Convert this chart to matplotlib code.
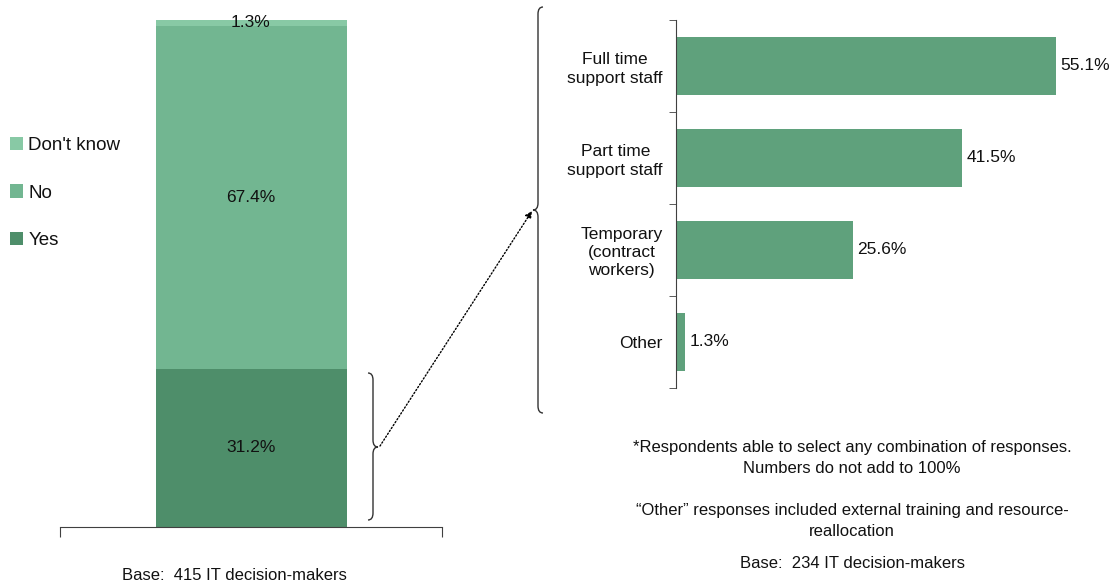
import matplotlib
matplotlib.use("Agg")
import matplotlib.pyplot as plt
from matplotlib.path import Path
from matplotlib.patches import PathPatch, FancyArrowPatch

plt.rcParams['font.family'] = ['Liberation Sans', 'DejaVu Sans']

# stacked column: has the organisation added staff?
stack_labels = ["Yes", "No", "Don't know"]
stack_values = [31.2, 67.4, 1.3]
stack_colors = ["#4e8e6a", "#72b691", "#88c9a5"]

# breakdown of the "Yes" answers
staff_types = ["Full time\nsupport staff", "Part time\nsupport staff",
               "Temporary\n(contract\nworkers)", "Other"]
staff_values = [55.1, 41.5, 25.6, 1.3]
bar_color = "#5fa17c"

left_base = "Base:  415 IT decision-makers"
right_notes = ["*Respondents able to select any combination of responses.\nNumbers do not add to 100%",
               "\u201cOther\u201d responses included external training and resource-\nreallocation",
               "Base:  234 IT decision-makers"]

W, H = 1117, 583
fig = plt.figure(figsize=(W / 100, H / 100), dpi=100)

def fx(x):
    return x / W

def fy(y):
    return 1 - y / H

txt = "#111111"
axis_col = "#404040"
lab_fs = 12.5
note_fs = 12

# ---- left stacked bar
ax1 = fig.add_axes([fx(60), fy(527), 382 / W, 508 / H])
bottom = 0
handles = []
for lab, val, col in zip(stack_labels, stack_values, stack_colors):
    b = ax1.bar(0, val, width=1.0, bottom=bottom, color=col, label=lab)
    ax1.text(0, bottom + val / 2, "%.1f%%" % val, ha="center", va="center",
             fontsize=lab_fs, color=txt)
    handles.append(b)
    bottom += val
ax1.set_xlim(-1, 1)
ax1.set_ylim(0, 100)
for s in ["top", "right", "left"]:
    ax1.spines[s].set_visible(False)
ax1.spines["bottom"].set_color(axis_col)
ax1.set_yticks([])
ax1.set_xticks([-1, 1])
ax1.set_xticklabels([])
ax1.tick_params(axis="x", length=7, color=axis_col, direction="out")
fig.text(fx(234), fy(575), left_base, ha="center", va="center", fontsize=note_fs, color=txt)

leg = ax1.legend(handles[::-1], stack_labels[::-1], loc="center left",
                 bbox_to_anchor=(fx(10), fy(193)), bbox_transform=fig.transFigure,
                 frameon=False, fontsize=13.5, handlelength=0.7, handleheight=0.7,
                 handletextpad=0.28, labelspacing=1.6, borderpad=0, borderaxespad=0)
for t in leg.get_texts():
    t.set_color(txt)

# ---- right horizontal bars
ax2 = fig.add_axes([fx(676), fy(388), 414 / W, 368 / H])
pos = list(range(len(staff_types)))
bars = ax2.barh(pos, staff_values, height=0.63, color=bar_color)
ax2.bar_label(bars, labels=["%.1f%%" % v for v in staff_values], padding=3,
              fontsize=lab_fs, color=txt)
ax2.set_ylim(3.5, -0.5)
ax2.set_xlim(0, 60)
for s in ["top", "right", "bottom"]:
    ax2.spines[s].set_visible(False)
ax2.spines["left"].set_color(axis_col)
ax2.set_xticks([])
ax2.set_yticks(pos)
ax2.set_yticklabels(staff_types, fontsize=lab_fs, color=txt)
for t in ax2.get_yticklabels():
    t.set_multialignment("center")
    t.set_linespacing(1.25)
ax2.tick_params(axis="y", which="major", length=0, pad=9.4)
ax2.set_yticks([p - 0.5 for p in pos] + [pos[-1] + 0.5], minor=True)
ax2.tick_params(axis="y", which="minor", length=5, color=axis_col)

for note, yy in zip(right_notes, [458, 521, 564]):
    fig.text(fx(852), fy(yy), note, ha="center", va="center", fontsize=note_fs,
             color=txt, linespacing=1.45)

# ---- braces and connector
def brace(x_end, x_line, x_tip, y0, ym, y1, r=7):
    pts = [(x_end, y0), (x_line, y0), (x_line, y0 + r),
           (x_line, ym - r), (x_line, ym), (x_tip, ym),
           (x_line, ym), (x_line, ym + r),
           (x_line, y1 - r), (x_line, y1), (x_end, y1)]
    codes = [Path.MOVETO, Path.CURVE3, Path.CURVE3,
             Path.LINETO, Path.CURVE3, Path.CURVE3,
             Path.CURVE3, Path.CURVE3,
             Path.LINETO, Path.CURVE3, Path.CURVE3]
    verts = [(fx(x), fy(y)) for x, y in pts]
    fig.add_artist(PathPatch(Path(verts, codes), fill=False, lw=1.0,
                             edgecolor="#333333", transform=fig.transFigure))

brace(368, 373, 378, 373, 447, 520)
brace(543, 538, 533, 7, 210, 413)

arrow = FancyArrowPatch((fx(380), fy(446)), (fx(532), fy(211)),
                        transform=fig.transFigure, arrowstyle="-|>",
                        mutation_scale=10, linestyle=(0, (1, 1.5)), lw=1,
                        color="black", shrinkA=0, shrinkB=0)
fig.add_artist(arrow)

fig.savefig("out.png", dpi=100)
